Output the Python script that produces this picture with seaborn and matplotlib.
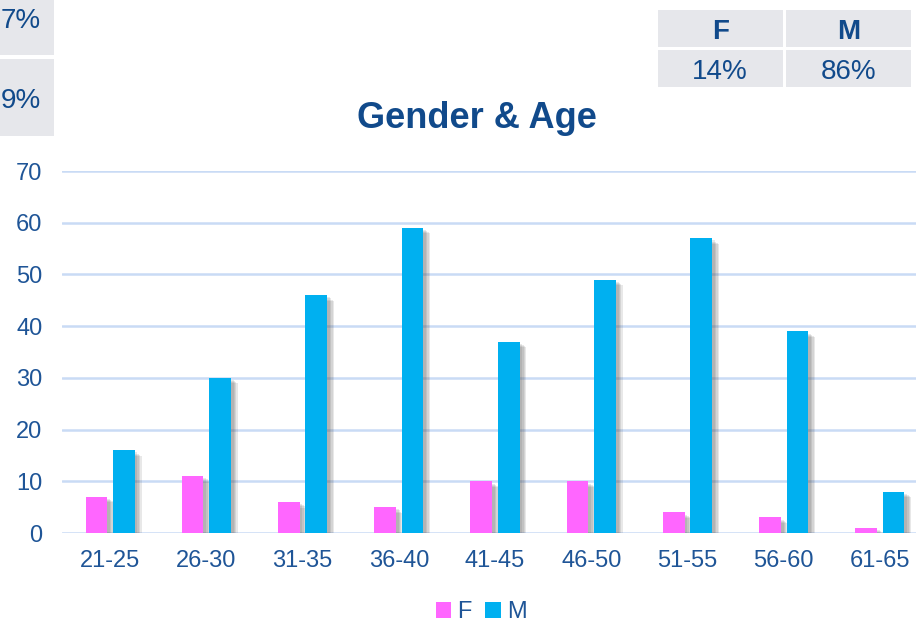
import matplotlib
matplotlib.use("Agg")
import matplotlib.pyplot as plt
import matplotlib.patheffects as pe
from matplotlib.patches import Rectangle, Patch
import seaborn as sns
import pandas as pd

# ---- data ----
age_groups = ["21-25", "26-30", "31-35", "36-40", "41-45", "46-50", "51-55", "56-60", "61-65"]
female = [7, 11, 6, 5, 10, 10, 4, 3, 1]
male = [16, 30, 46, 59, 37, 49, 57, 39, 8]
series_names = ["F", "M"]
gender_share = ["14%", "86%"]
left_partial = ["7%", "9%"]
title = "Gender & Age"
y_ticks = [0, 10, 20, 30, 40, 50, 60, 70]

df = pd.DataFrame({
    "age": age_groups * 2,
    "gender": ["F"] * len(age_groups) + ["M"] * len(age_groups),
    "count": female + male,
})

W, H = 916, 622
sns.set_theme(style="white")
plt.rcParams["font.family"] = ["Liberation Sans", "DejaVu Sans"]

TXT = "#1f5597"
TITLE_C = "#114a8b"
GRID_C = "#c9dbf5"
PINK = "#ff66ff"
BLUE = "#00b0f0"
CELL = "#e6e7eb"

fig = plt.figure(figsize=(W / 100, H / 100), dpi=100)
fig.patch.set_facecolor("white")

def fx(px):
    return px / W

def fy(py):
    return 1 - py / H

ax = fig.add_axes([fx(62), fy(533), fx(928) - fx(62), fy(171) - fy(533)])

sns.barplot(data=df, x="age", y="count", hue="gender", order=age_groups,
            hue_order=series_names, palette=[PINK, BLUE], width=0.57, gap=0.21,
            saturation=1, errorbar=None, legend=False, ax=ax, zorder=3)

# soft drop shadow built from several faint offset copies
shadow = [pe.SimplePatchShadow(offset=(d, -d * 0.8), shadow_rgbFace="#505050", alpha=0.13)
          for d in (5, 4, 3, 2)] + [pe.Normal()]
for p in ax.patches:
    p.set_path_effects(shadow)
    p.set_edgecolor("none")

ax.set_ylim(0, 70)
ax.set_xlim(-0.5, len(age_groups) - 0.5)
ax.set_yticks(y_ticks)
ax.yaxis.grid(True, color=GRID_C, linewidth=1.8, zorder=0)
ax.set_axisbelow(True)
for s in ax.spines.values():
    s.set_visible(False)
ax.tick_params(axis="both", length=0, labelsize=17, labelcolor=TXT)
ax.tick_params(axis="y", pad=14)
ax.tick_params(axis="x", pad=12)
ax.set_xlabel("")
ax.set_ylabel("")

fig.text(fx(477), fy(118), title, ha="center", va="center", fontsize=26,
         fontweight="bold", color=TITLE_C)

# legend
handles = [Patch(facecolor=PINK, edgecolor="none"), Patch(facecolor=BLUE, edgecolor="none")]
fig.legend(handles, series_names, loc="center", bbox_to_anchor=(fx(481), fy(612)),
           ncol=2, frameon=False, fontsize=17, labelcolor=TXT, handlelength=0.65,
           handleheight=0.65, handletextpad=0.25, columnspacing=0.6)

# right summary table
cells = [(657.7, 782.7), (785.7, 910.7)]
rows = [(10, 46.7), (50, 86.7)]
for (x0, x1), lab, val in zip(cells, series_names, gender_share):
    for (y0, y1) in rows:
        fig.add_artist(Rectangle((fx(x0), fy(y1)), fx(x1) - fx(x0), fy(y0) - fy(y1),
                                 transform=fig.transFigure, facecolor=CELL, edgecolor="none"))
    cx = (x0 + x1) / 2
    fig.text(fx(cx), fy(32), lab, ha="center", va="center", fontsize=20,
             fontweight="bold", color=TITLE_C)
    fig.text(fx(cx), fy(72), val, ha="center", va="center", fontsize=20, color=TITLE_C)

# left partial table (at the figure edge)
left_rows = [(0, 55.3), (58.7, 135.7)]
for (y0, y1), val, ty in zip(left_rows, left_partial, [21, 101]):
    fig.add_artist(Rectangle((0, fy(y1)), fx(53.5), fy(y0) - fy(y1),
                             transform=fig.transFigure, facecolor=CELL, edgecolor="none"))
    fig.text(fx(1), fy(ty), val, ha="left", va="center", fontsize=20, color=TITLE_C)

fig.savefig("out.png", dpi=100, facecolor="white")
